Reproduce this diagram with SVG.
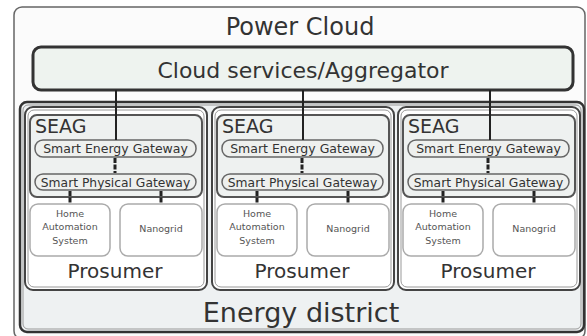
<svg xmlns="http://www.w3.org/2000/svg" width="587" height="336" viewBox="0 0 587 336">
<style>
text{font-family:"DejaVu Sans","Liberation Sans",sans-serif;fill:#333;text-anchor:middle}
.outer{fill:#fbfbfb;stroke:#666;stroke-width:1.5}
.cloud{fill:#eef3ef;stroke:#333;stroke-width:3}
.district{fill:#eef1f2;stroke:#333;stroke-width:2.5}
.inner{fill:none;stroke:#999;stroke-width:1}
.pros{fill:#fff;stroke:#444;stroke-width:2}
.seag{fill:#eef1f0;stroke:#555;stroke-width:2}
.pill{fill:#eef0ee;stroke:#666;stroke-width:1.5}
.dev{fill:#fff;stroke:#aaa;stroke-width:1.5}
.conn{stroke:#222;stroke-width:2;fill:none}
.short{stroke:#222;stroke-width:3;fill:none;stroke-dasharray:5 1.5}
.small{font-size:9.5px;fill:#555}
</style>
<defs>
<g id="prosumer">
<rect class="pros" x="25" y="107" width="182" height="183" rx="8"/>
<rect class="inner" x="28" y="110" width="176" height="177" rx="6"/>
<rect class="seag" x="30" y="115" width="172" height="82" rx="7"/>
<text x="35" y="133" font-size="19" style="text-anchor:start">SEAG</text>
<rect class="pill" x="35" y="140" width="161" height="17" rx="8"/>
<text x="115.5" y="153" font-size="12.5">Smart Energy Gateway</text>
<rect class="pill" x="35" y="174" width="161" height="16" rx="8"/>
<text x="115.5" y="186.5" font-size="12.3">Smart Physical Gateway</text>
<rect class="dev" x="30" y="204" width="80" height="52" rx="8"/>
<rect class="dev" x="120" y="204" width="82" height="52" rx="8"/>
<text class="small" x="70" y="217">Home</text>
<text class="small" x="70" y="230">Automation</text>
<text class="small" x="70" y="244">System</text>
<text class="small" x="161" y="232" font-size="9">Nanogrid</text>
<text x="115" y="278" font-size="20">Prosumer</text>
<line class="short" x1="115" y1="158" x2="115" y2="173"/>
<line class="short" x1="70" y1="191" x2="70" y2="204"/>
<line class="short" x1="161" y1="191" x2="161" y2="204"/>
</g>
</defs>
<g id="power-cloud">
<rect class="outer" x="14" y="7" width="571" height="332" rx="8"/>
<text x="300" y="35" font-size="24">Power Cloud</text>
</g>
<g id="cloud-services">
<rect class="cloud" x="33" y="47" width="540" height="43" rx="8"/>
<text x="303" y="78" font-size="22">Cloud services/Aggregator</text>
</g>
<g id="energy-district">
<rect class="district" x="20" y="102" width="564" height="230" rx="7"/>
<rect class="inner" x="23" y="105" width="558" height="224" rx="5"/>
<text x="301" y="322" font-size="27">Energy district</text>
</g>
<g id="prosumer-1"><use href="#prosumer"/></g>
<g id="prosumer-2"><use href="#prosumer" x="187"/></g>
<g id="prosumer-3"><use href="#prosumer" x="373"/></g>
<g id="connectors">
<line class="conn" x1="116" y1="90" x2="116" y2="140"/>
<line class="conn" x1="303" y1="90" x2="303" y2="140"/>
<line class="conn" x1="490" y1="90" x2="490" y2="140"/>
</g>
</svg>
